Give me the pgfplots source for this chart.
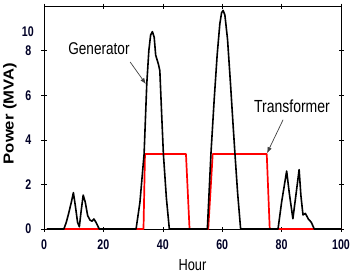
\documentclass[border=0pt]{standalone}
\usepackage{fontspec}
\setmainfont{Liberation Sans}
\newfontfamily\tickfont[FakeStretch=0.76]{Liberation Sans}
\newfontfamily\annfont[FakeStretch=0.8]{Liberation Sans}
\newfontfamily\ylabfont[FakeStretch=1.15]{Liberation Sans}
\usepackage{pgfplots}
\pgfplotsset{compat=1.18}
\usetikzlibrary{arrows.meta}
\begin{document}
\begin{tikzpicture}
\begin{axis}[
  scale only axis, width=297pt, height=223pt,
  xmin=0, xmax=100, ymin=0, ymax=10,
  xtick={0,20,40,60,80,100}, ytick={0,2,4,6,8},
  extra y ticks={8.85}, extra y tick labels={10},
  extra y tick style={major tick length=0pt},
  tick align=center, major tick length=5pt,
  tick style={black, line width=0.6pt},
  axis line style={line width=0.8pt},
  /pgf/number format/assume math mode=true,
  tick label style={font=\tickfont\bfseries\fontsize{14}{14}\selectfont, text=black!85!blue},
  xticklabel style={anchor=center, yshift=-13pt},
  yticklabel style={anchor=east, inner sep=0pt, xshift=-10pt},
  xlabel={Hour},
  xlabel style={font=\annfont\fontsize{16}{16}\selectfont, at={(axis description cs:0.5,-0.161)}, anchor=center},
  ylabel={Power (MVA)},
  ylabel style={font=\ylabfont\bfseries\fontsize{14.5}{14.5}\selectfont, at={(axis description cs:-0.1145,0.518)}, anchor=center},
  clip=false,
]
\addplot[red, line width=1.7pt, line join=round] coordinates {
(1,0)(33.5,0)(34,3.36)(47.8,3.36)(49,0)(55.3,0)(56.8,3.36)(75,3.36)(76,0)(100,0)
};
\addplot[black, line width=1.6pt, line join=round] coordinates {
(1,0)(6.7,0)(7.5,0.3)(8.3,0.7)(9.2,1.2)(9.9,1.63)(10.6,1.0)(11.3,0.3)(11.9,0.1)(12.5,0.8)(13.2,1.52)(13.9,1.2)(14.7,0.6)(15.5,0.4)(16.2,0.35)(16.8,0.45)(17.5,0.3)(18.6,0)
(31,0)(32.3,1.2)(33.7,3.36)(34.6,6.5)(35.3,8.0)(35.9,8.7)(36.5,8.85)(37.1,8.6)(37.6,7.8)(38.5,7.4)(39,7.1)(39.6,5.2)(40.2,3.36)(41.2,1.4)(42.2,0)
(55,0)(56.2,3.36)(57.3,5.8)(58.3,7.8)(59.2,9.2)(59.8,9.7)(60.3,9.8)(60.9,9.6)(61.8,8.5)(62.8,6.5)(63.6,4.8)(64.3,3.36)(65.2,1.6)(66.2,0)
(78.8,0)(80,1.2)(81.7,2.6)(82.6,1.6)(83.8,0.46)(84.8,1.5)(85.9,2.66)(86.5,1.5)(87.2,0.63)(88,0.7)(89,0.45)(90,0.3)(91,0)(100,0)
};
\node[font=\annfont\fontsize{17}{17}\selectfont] at (axis cs:18.5,8.1) {Generator};
\node[font=\annfont\fontsize{17.5}{17.5}\selectfont] at (axis cs:83.5,5.5) {Transformer};
\draw[-{Latex[length=6pt,width=4.5pt]}, black!75, line width=0.7pt] (axis cs:29,7.49) -- (axis cs:34.3,6.5);
\draw[-{Latex[length=6pt,width=4.5pt]}, black!75, line width=0.7pt] (axis cs:80.5,4.9) -- (axis cs:75.1,3.4);
\end{axis}
\pgfresetboundingbox
\path ([shift={(-44pt,-45pt)}]current axis.south west) rectangle ([shift={(9pt,6pt)}]current axis.north east);
\end{tikzpicture}
\end{document}
